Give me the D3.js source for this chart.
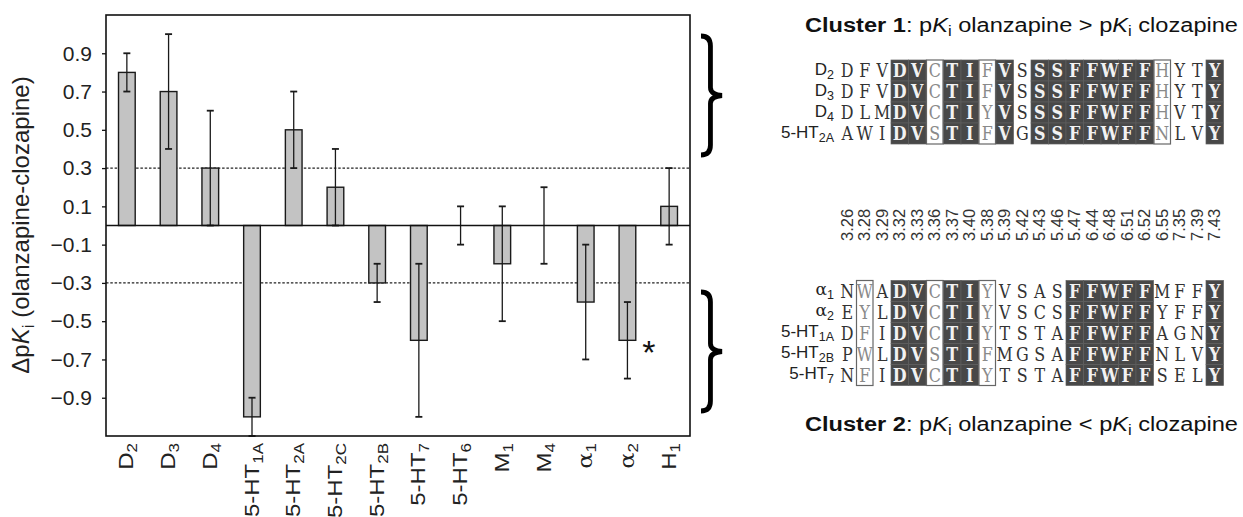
<!DOCTYPE html>
<html><head><meta charset="utf-8">
<script src="https://cdn.jsdelivr.net/npm/d3@7"></script>
<style>body{margin:0;background:#fff}svg{display:block}</style>
</head><body>
<script>
// ---------- Bar chart data ----------
const categories = ["D2","D3","D4","5-HT1A","5-HT2A","5-HT2C","5-HT2B","5-HT7","5-HT6","M1","M4","α1","α2","H1"];
const labelBase  = ["D","D","D","5-HT","5-HT","5-HT","5-HT","5-HT","5-HT","M","M","α","α","H"];
const labelSub   = ["2","3","4","1A","2A","2C","2B","7","6","1","4","1","2","1"];
const deltaPKi   = [0.8, 0.7, 0.3, -1.0, 0.5, 0.2, -0.3, -0.6, 0.0, -0.2, 0.0, -0.4, -0.6, 0.1];
const errLow     = [0.7, 0.4, 0.0, -1.1, 0.3, 0.0, -0.4, -1.0, -0.1, -0.5, -0.2, -0.7, -0.8, -0.1];
const errHigh    = [0.9, 1.0, 0.6, -0.9, 0.7, 0.4, -0.2, -0.2, 0.1, 0.1, 0.2, -0.1, -0.4, 0.3];
const yTicks     = [0.9, 0.7, 0.5, 0.3, 0.1, -0.1, -0.3, -0.5, -0.7, -0.9];
const thresholds = [0.3, -0.3];
const starred    = ["α2"];

// ---------- Alignment data ----------
const positions = ["3.26","3.28","3.29","3.32","3.33","3.36","3.37","3.40","5.38","5.39","5.42","5.43","5.46","5.47","6.44","6.48","6.51","6.52","6.55","7.35","7.39","7.43"];
const cluster1Base = ["D","D","D","5-HT"];
const cluster1Sub  = ["2","3","4","2A"];
const cluster1Seqs = ["DFVDVCTIFVSSSFFWFFHYTY","DFVDVCTIFVSSSFFWFFHYTY","DLMDVCTIYVSSSFFWFFHVTY","AWIDVSTIFVGSSFFWFFNLVY"];
// conservation class per column: p = none, d = identical (dark), w = similar (boxed)
const cluster1Cons = "pppddwddwdpdddddddwppd";
const cluster2Base = ["α","α","5-HT","5-HT","5-HT"];
const cluster2Sub  = ["1","2","1A","2B","7"];
const cluster2Seqs = ["NWADVCTIYVSASFFWFFMFFY","EYLDVCTIYVSCSFFWFFYFFY","DFIDVCTIYTSTAFFWFFAGNY","PWLDVSTIFMGSAFFWFFNLVY","NFIDVCTIYTSTAFFWFFSELY"];
const cluster2Cons = "pwpddwddwppppdddddpppd";

const W = 1243, H = 517;
const SANS = "Arial, 'Liberation Sans', sans-serif";
const svg = d3.select("body").append("svg").attr("width", W).attr("height", H)
  .style("font-family", SANS);

// ---------- Bar chart ----------
const P = {left: 106, right: 690, top: 15, bottom: 436};
const x = d3.scaleBand().domain(categories).range([P.left, P.right]).paddingInner(0.6).paddingOuter(0.3);
const y = d3.scaleLinear().domain([-1.1, 1.1]).range([P.bottom, P.top]);

svg.append("g").selectAll("line").data(thresholds).join("line")
  .attr("x1", P.left).attr("x2", P.right).attr("y1", d => y(d)).attr("y2", d => y(d))
  .attr("stroke", "#222").attr("stroke-width", 1.3).attr("stroke-dasharray", "2.5,1.8");

const bars = categories.map((c, i) => ({c, v: deltaPKi[i], lo: errLow[i], hi: errHigh[i]}));

svg.append("g").selectAll("rect").data(bars.filter(d => d.v !== 0)).join("rect")
  .attr("x", d => x(d.c)).attr("width", x.bandwidth())
  .attr("y", d => y(Math.max(0, d.v))).attr("height", d => Math.abs(y(d.v) - y(0)))
  .attr("fill", "#c3c3c3").attr("stroke", "#1a1a1a").attr("stroke-width", 1.4);

const eb = svg.append("g").attr("stroke", "#1a1a1a").attr("stroke-width", 1.3);
const cx = d => x(d.c) + x.bandwidth() / 2;
eb.selectAll("line.v").data(bars).join("line").attr("class", "v")
  .attr("x1", cx).attr("x2", cx).attr("y1", d => y(d.lo)).attr("y2", d => y(d.hi));
eb.selectAll("line.c1").data(bars).join("line").attr("class", "c1")
  .attr("x1", d => cx(d) - 3.5).attr("x2", d => cx(d) + 3.5).attr("y1", d => y(d.hi)).attr("y2", d => y(d.hi)).attr("stroke-width", 1.8);
eb.selectAll("line.c2").data(bars).join("line").attr("class", "c2")
  .attr("x1", d => cx(d) - 3.5).attr("x2", d => cx(d) + 3.5).attr("y1", d => y(d.lo)).attr("y2", d => y(d.lo)).attr("stroke-width", 1.8);

svg.append("line").attr("x1", P.left).attr("x2", P.right).attr("y1", y(0)).attr("y2", y(0))
  .attr("stroke", "#111").attr("stroke-width", 1.6);
svg.append("rect").attr("x", P.left).attr("y", P.top).attr("width", P.right - P.left).attr("height", P.bottom - P.top)
  .attr("fill", "none").attr("stroke", "#111").attr("stroke-width", 1.6);

// y axis
const yAxis = d3.axisLeft(y).tickValues(yTicks).tickFormat(d3.format(".1f")).tickSize(4).tickPadding(10);
const ya = svg.append("g").attr("transform", `translate(${P.left},0)`).call(yAxis);
ya.select(".domain").remove();
ya.selectAll("line").attr("stroke", "#111").attr("stroke-width", 1.3);
ya.selectAll("text").attr("font-size", 21).attr("fill", "#222").attr("font-family", SANS);

// y title
const yt = svg.append("text").attr("transform", `translate(29,225) rotate(-90)`)
  .attr("text-anchor", "middle").attr("font-size", 24).attr("fill", "#222");
yt.append("tspan").text("Δp");
yt.append("tspan").attr("font-style", "italic").text("K");
yt.append("tspan").attr("font-size", 17).attr("dy", 5).text("i");
yt.append("tspan").attr("dy", -5).text(" (olanzapine-clozapine)");

// x labels
const xl = svg.append("g").selectAll("text").data(categories).join("text")
  .attr("transform", d => `translate(${x(d) + x.bandwidth() / 2 + 6.5},443) scale(0.82,1) rotate(-90)`)
  .attr("text-anchor", "end").attr("font-size", 24).attr("fill", "#222");
xl.append("tspan").style("font-family", (d, i) => labelBase[i] === "α" ? "'DejaVu Serif', serif" : null)
  .text((d, i) => labelBase[i]);
xl.append("tspan").attr("font-size", 17).attr("dy", 5).text((d, i) => labelSub[i]);

// asterisk
svg.append("g").selectAll("text").data(starred).join("text")
  .attr("x", d => x(d) + x.bandwidth() + 13).attr("y", y(-0.6) + 24)
  .attr("text-anchor", "middle").attr("font-size", 34).attr("fill", "#111").text("*");

// braces
function brace(x0, y0, y1, depth) {
  const m = (y0 + y1) / 2, s = x0 + depth * 0.45, t = x0 + depth;
  return `M${x0},${y0} Q${s},${y0} ${s},${y0 + 10} L${s},${m - 8} Q${s},${m - 1} ${t},${m} Q${s},${m + 1} ${s},${m + 8} L${s},${y1 - 10} Q${s},${y1} ${x0},${y1}`;
}
svg.append("path").attr("d", brace(701, 36, 155, 21)).attr("fill", "none").attr("stroke", "#000").attr("stroke-width", 4.8);
svg.append("path").attr("d", brace(701, 292, 411, 21)).attr("fill", "none").attr("stroke", "#000").attr("stroke-width", 4.8);

// ---------- Alignment ----------
const col = d3.scaleBand().domain(d3.range(positions.length)).range([838.5, 838.5 + positions.length * 17.5]);
const SERIF = "'DejaVu Serif', 'Liberation Serif', serif";

function drawBlock(top, rowH, bases, subs, seqs, cons) {
  const g = svg.append("g");
  const n = seqs.length;
  const cols = d3.range(positions.length);
  g.selectAll("rect.w").data(cols.filter(i => cons[i] === "w")).join("rect")
    .attr("x", i => col(i) + 0.5).attr("width", col.bandwidth() - 1)
    .attr("y", top).attr("height", n * rowH)
    .attr("fill", "#fff").attr("stroke", "#666").attr("stroke-width", 1.2);
  const dcells = [];
  cols.filter(i => cons[i] === "d").forEach(i => d3.range(n).forEach(r => dcells.push({i, r})));
  g.selectAll("rect.d").data(dcells).join("rect")
    .attr("x", d => col(d.i)).attr("width", col.bandwidth())
    .attr("y", d => top + d.r * rowH).attr("height", rowH)
    .attr("fill", "#484848").attr("stroke", "#5e5e5e").attr("stroke-width", 0.7);
  const letters = [];
  seqs.forEach((s, r) => s.split("").forEach((ch, i) => letters.push({ch, i, r})));
  g.selectAll("text.l").data(letters).join("text")
    .attr("transform", d => `translate(${col(d.i) + col.bandwidth() / 2},${top + d.r * rowH + rowH / 2 + 6.8}) scale(0.84,1)`)
    .attr("text-anchor", "middle").style("font-family", SERIF)
    .attr("font-size", 19)
    .attr("font-weight", d => cons[d.i] === "d" ? "bold" : "normal")
    .attr("fill", d => cons[d.i] === "d" ? "#f2f2f2" : cons[d.i] === "w" ? "#8a8a8a" : "#333")
    .text(d => d.ch);
  const rl = g.selectAll("text.r").data(bases).join("text")
    .attr("x", 834).attr("y", (d, r) => top + r * rowH + rowH / 2 + 4)
    .attr("text-anchor", "end").attr("font-size", 17).attr("fill", "#222");
  rl.append("tspan").style("font-family", d => d === "α" ? SERIF : null)
    .attr("font-size", d => d === "α" ? 17 : null).text(d => d);
  rl.append("tspan").attr("font-size", 12.5).attr("dy", 4).text((d, r) => subs[r]);
}
drawBlock(60, 21, cluster1Base, cluster1Sub, cluster1Seqs, cluster1Cons);
drawBlock(280.5, 21, cluster2Base, cluster2Sub, cluster2Seqs, cluster2Cons);

// position labels
svg.append("g").selectAll("text").data(positions).join("text")
  .attr("transform", (d, i) => `translate(${col(i) + col.bandwidth() / 2 + 5.5},241) rotate(-90)`)
  .attr("font-size", 16.5).attr("fill", "#333").text(d => d);

// cluster titles
function title(yb, num, sym) {
  const t = svg.append("text").attr("x", 805).attr("y", yb).attr("font-size", 20).attr("fill", "#111")
    .attr("textLength", 433).attr("lengthAdjust", "spacingAndGlyphs");
  t.append("tspan").attr("font-weight", "bold").text("Cluster " + num);
  t.append("tspan").text(": p");
  t.append("tspan").attr("font-style", "italic").text("K");
  t.append("tspan").attr("font-size", 14).attr("dy", 4).text("i");
  t.append("tspan").attr("dy", -4).text(" olanzapine " + sym + " p");
  t.append("tspan").attr("font-style", "italic").text("K");
  t.append("tspan").attr("font-size", 14).attr("dy", 4).text("i");
  t.append("tspan").attr("dy", -4).text(" clozapine");
}
title(32, 1, ">");
title(431, 2, "<");
</script>
</body></html>
